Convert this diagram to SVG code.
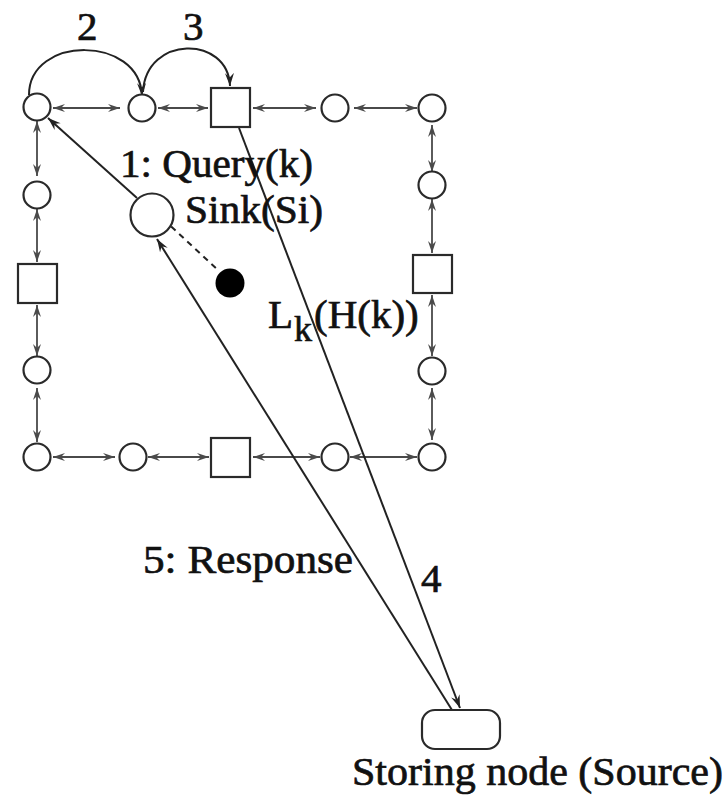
<svg xmlns="http://www.w3.org/2000/svg" width="728" height="799" viewBox="0 0 728 799">
<style>
.n{fill:#fff;stroke:#2a2a2a;stroke-width:2.2}
.e{stroke:#4a4a4a;stroke-width:1.8;fill:none;marker-start:url(#a);marker-end:url(#a)}
.l{stroke:#222;stroke-width:2;fill:none;marker-end:url(#b)}
text{font-family:"Liberation Serif","Times New Roman",serif;font-size:41px;fill:#111;stroke:#111;stroke-width:0.7}
</style>
<defs>
<marker id="a" markerUnits="userSpaceOnUse" markerWidth="13" markerHeight="9" refX="12" refY="4.5" orient="auto-start-reverse">
<path d="M0,0.5 L12,4.5 L0,8.5 L4,4.5 z" fill="#4a4a4a"/>
</marker>
<marker id="b" markerUnits="userSpaceOnUse" markerWidth="14" markerHeight="10" refX="13" refY="5" orient="auto">
<path d="M0,0.5 L13,5 L0,9.5 L4.5,5 z" fill="#222"/>
</marker>
</defs>
<rect width="728" height="799" fill="#fff"/>
<g id="connectors">
<line class="e" x1="53" y1="108" x2="120" y2="108"/>
<line class="e" x1="158" y1="108" x2="208" y2="108"/>
<line class="e" x1="253" y1="108" x2="316" y2="108"/>
<line class="e" x1="354" y1="108" x2="417" y2="108"/>
<line class="e" x1="37" y1="121" x2="37" y2="176"/>
<line class="e" x1="37" y1="209" x2="37" y2="262"/>
<line class="e" x1="37" y1="305" x2="37" y2="356"/>
<line class="e" x1="37" y1="388" x2="37" y2="442"/>
<line class="e" x1="432" y1="125" x2="432" y2="172"/>
<line class="e" x1="432" y1="199" x2="432" y2="253"/>
<line class="e" x1="432" y1="295" x2="432" y2="356"/>
<line class="e" x1="432" y1="388" x2="432" y2="440"/>
<line class="e" x1="53" y1="457" x2="115" y2="457"/>
<line class="e" x1="148" y1="457" x2="209" y2="457"/>
<line class="e" x1="253" y1="457" x2="320" y2="457"/>
<line class="e" x1="350" y1="457" x2="417" y2="457"/>
<path class="l" d="M29 95 C29 35 140 35 142 96"/>
<path class="l" d="M143 92 C146 35 228 35 230 86"/>
<line class="l" x1="137" y1="198" x2="48" y2="118"/>
<line x1="147" y1="204" x2="219" y2="271" stroke="#222" stroke-width="2" stroke-dasharray="6,5"/>
<line class="l" x1="239" y1="128" x2="460" y2="708"/>
<line class="l" x1="452" y1="710" x2="157" y2="239"/>
</g>
<g id="n1"><circle class="n" cx="37" cy="107" r="13.5"/></g>
<g id="n2"><circle class="n" cx="142" cy="108" r="13.5"/></g>
<g id="n3"><rect class="n" x="211" y="88" width="39" height="39"/></g>
<g id="n4"><circle class="n" cx="335" cy="108" r="13.5"/></g>
<g id="n5"><circle class="n" cx="432" cy="108" r="13.5"/></g>
<g id="n6"><circle class="n" cx="37" cy="195" r="13.5"/></g>
<g id="n7"><rect class="n" x="18" y="264" width="39" height="39"/></g>
<g id="n8"><circle class="n" cx="37" cy="370" r="13.5"/></g>
<g id="n9"><circle class="n" cx="37" cy="457" r="13.5"/></g>
<g id="n10"><circle class="n" cx="133" cy="457" r="13.5"/></g>
<g id="n11"><rect class="n" x="211" y="438" width="39" height="39"/></g>
<g id="n12"><circle class="n" cx="335" cy="457" r="13.5"/></g>
<g id="n13"><circle class="n" cx="432" cy="457" r="13.5"/></g>
<g id="n14"><circle class="n" cx="432" cy="185" r="13.5"/></g>
<g id="n15"><rect class="n" x="413" y="255" width="39" height="38"/></g>
<g id="n16"><circle class="n" cx="432" cy="371" r="13.5"/></g>
<g id="sink"><circle class="n" cx="152" cy="215" r="21.5"/></g>
<g id="dot"><circle cx="230" cy="283" r="14.5" fill="#000"/></g>
<g id="source"><rect class="n" x="422" y="710" width="78" height="39" rx="13"/></g>
<g id="labels">
<text x="77" y="40">2</text>
<text x="183" y="40">3</text>
<text x="120" y="177" textLength="193" lengthAdjust="spacingAndGlyphs">1: Query(k)</text>
<text x="185" y="223" textLength="138" lengthAdjust="spacingAndGlyphs">Sink(Si)</text>
<text x="268" y="328">L<tspan dx="1" dy="13" font-size="36">k</tspan><tspan x="314" dy="-13">(H(k))</tspan></text>
<text x="143" y="573" textLength="210" lengthAdjust="spacingAndGlyphs">5: Response</text>
<text x="421" y="592">4</text>
<text x="352" y="785" textLength="371" lengthAdjust="spacingAndGlyphs">Storing node (Source)</text>
</g>
</svg>
